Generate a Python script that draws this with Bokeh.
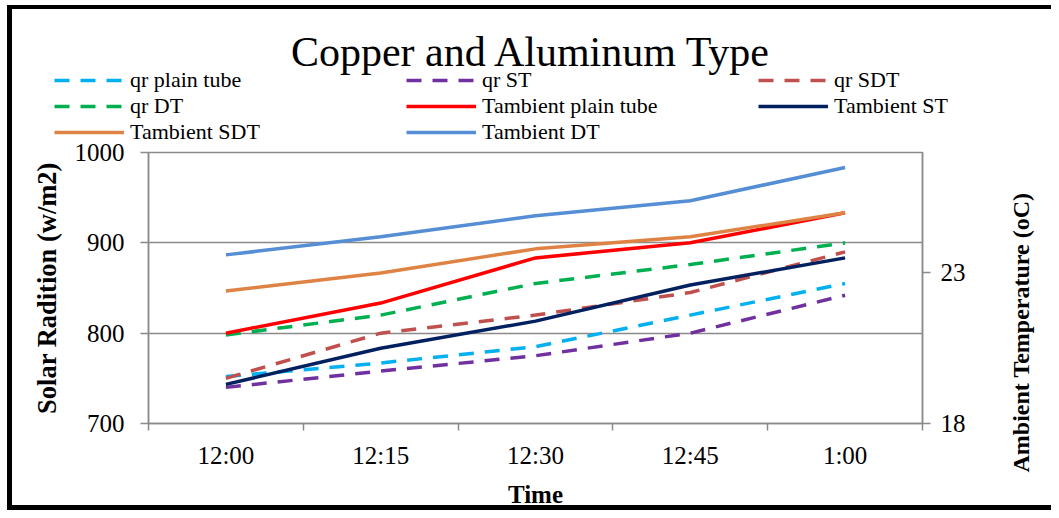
import math
from bokeh.plotting import figure
from bokeh.layouts import column, row
from bokeh.models import (Range1d, LinearAxis, FixedTicker, Legend, LegendItem, Label)
from bokeh.embed import file_html
from bokeh.resources import INLINE

# ---------------- data ----------------
times = ["12:00", "12:15", "12:30", "12:45", "1:00"]
qr_plain_tube = [752, 767, 785, 820, 855]
qr_st = [740, 758, 775, 800, 842]
qr_sdt = [750, 800, 820, 845, 890]
qr_dt = [798, 820, 855, 876, 900]
t_plain_tube = [21.0, 22.0, 23.5, 24.0, 25.0]
t_st = [19.3, 20.5, 21.4, 22.6, 23.5]
t_sdt = [22.4, 23.0, 23.8, 24.2, 25.0]
t_dt = [23.6, 24.2, 24.9, 25.4, 26.5]
left_ticks = [700, 800, 900, 1000]
right_ticks = [18, 23]

title_text = "Copper and Aluminum Type"
x_title = "Time"
left_title = "Solar Radition (w/m2)"
right_title = "Ambient Temperature (oC)"

xs = list(range(len(times)))

FONT = "Liberation Serif"
GRID = "#8a8a8a"
DASH = "15 11"
LW = 3.5

series = [
    ("qr plain tube", qr_plain_tube, "#00B0F0", DASH, "default"),
    ("qr ST", qr_st, "#7030A0", DASH, "default"),
    ("qr SDT", qr_sdt, "#C0504D", DASH, "default"),
    ("qr DT", qr_dt, "#00B050", DASH, "default"),
    ("Tambient plain tube", t_plain_tube, "#FF0000", "solid", "temp"),
    ("Tambient ST", t_st, "#002060", "solid", "temp"),
    ("Tambient SDT", t_sdt, "#DF8344", "solid", "temp"),
    ("Tambient DT", t_dt, "#558ED5", "solid", "temp"),
]

W = 1051
H = 510
TOP_H = 150          # header canvas height
OVERLAP = 14         # main row starts this many px above the header's bottom
MAIN_TOP = TOP_H - OVERLAP
MAIN_H = H - MAIN_TOP
RIGHT_W = 61
MAIN_W = W - RIGHT_W


def no_align(fig):
    try:
        fig.frame_align = False
    except Exception:
        pass


def bare(fig):
    fig.border_fill_color = None
    fig.background_fill_color = None
    fig.outline_line_color = None
    fig.grid.visible = False
    no_align(fig)


# ---------------- header: title + legend ----------------
top = figure(width=W, height=TOP_H, output_backend="svg", toolbar_location=None, tools="",
             title=None, x_range=Range1d(0, W), y_range=Range1d(0, TOP_H),
             x_axis_type=None, y_axis_type=None,
             min_border_left=0, min_border_right=0, min_border_top=0, min_border_bottom=0)
bare(top)

top.add_layout(Label(x=531, y=TOP_H - 51, x_units="screen", y_units="screen",
                     text=title_text, text_font=FONT,
                     text_font_size="42px", text_align="center",
                     text_baseline="middle", text_color="black"))

items = []
for name, ys, color, dash, rng in series:
    r = top.line([float("nan")], [float("nan")], line_color=color, line_width=LW, line_dash=dash)
    items.append(LegendItem(label=name, renderers=[r]))

legend = Legend(items=items, orientation="horizontal", ncols=3,
                location=(54, TOP_H - 145), padding=0, margin=0, spacing=0,
                glyph_width=70, glyph_height=22, label_width=276, label_height=22,
                label_standoff=6, label_text_font=FONT, label_text_font_size="22px",
                label_text_color="black", border_line_color=None, background_fill_color=None)
top.add_layout(legend, "center")

# ---------------- main chart ----------------
p = figure(width=MAIN_W, height=MAIN_H, output_backend="svg", toolbar_location=None, tools="",
           title=None,
           x_range=Range1d(-0.5, len(times) - 0.5), y_range=Range1d(700, 1000),
           min_border_left=148, min_border_right=MAIN_W - 922, min_border_top=152 - MAIN_TOP,
           min_border_bottom=H - 423)
p.border_fill_color = None
p.background_fill_color = "white"
p.outline_line_color = GRID
p.outline_line_width = 1.5
no_align(p)
p.extra_y_ranges = {"temp": Range1d(18, 27)}

xa = p.xaxis[0]
xa.ticker = FixedTicker(ticks=xs, minor_ticks=[i - 0.5 for i in range(len(times) + 1)])
xa.major_label_overrides = {i: t for i, t in enumerate(times)}
xa.major_tick_out = 0
xa.major_tick_in = 0
xa.minor_tick_out = 7
xa.minor_tick_in = 0
xa.minor_tick_line_color = GRID
xa.minor_tick_line_width = 1.5
xa.axis_line_color = GRID
xa.axis_line_width = 1.5
xa.major_label_text_font = FONT
xa.major_label_text_font_size = "25px"
xa.major_label_text_color = "black"
xa.major_label_standoff = 11
xa.axis_label = x_title
xa.axis_label_text_font = FONT
xa.axis_label_text_font_size = "25px"
xa.axis_label_text_font_style = "bold"
xa.axis_label_text_color = "black"
xa.axis_label_standoff = 9

ya = p.yaxis[0]
ya.ticker = FixedTicker(ticks=left_ticks)
ya.major_tick_out = 8
ya.major_tick_in = 0
ya.minor_tick_out = 0
ya.minor_tick_in = 0
ya.major_tick_line_color = GRID
ya.major_tick_line_width = 1.5
ya.axis_line_color = GRID
ya.axis_line_width = 1.5
ya.major_label_text_font = FONT
ya.major_label_text_font_size = "25px"
ya.major_label_text_color = "black"
ya.major_label_standoff = 16
ya.axis_label = left_title
ya.axis_label_text_font = FONT
ya.axis_label_text_font_size = "26.5px"
ya.axis_label_text_font_style = "bold"
ya.axis_label_text_color = "black"
ya.axis_label_standoff = 10

ra = LinearAxis(y_range_name="temp", ticker=FixedTicker(ticks=right_ticks))
ra.major_tick_out = 8
ra.major_tick_in = 0
ra.minor_tick_out = 0
ra.minor_tick_in = 0
ra.major_tick_line_color = GRID
ra.major_tick_line_width = 1.5
ra.axis_line_color = GRID
ra.axis_line_width = 1.5
ra.major_label_text_font = FONT
ra.major_label_text_font_size = "25px"
ra.major_label_text_color = "black"
ra.major_label_standoff = 10
p.add_layout(ra, "right")

p.xgrid.visible = False
p.ygrid.ticker = FixedTicker(ticks=left_ticks)
p.ygrid.grid_line_color = GRID
p.ygrid.grid_line_width = 1.5

for name, ys, color, dash, rng in series:
    p.line(xs, ys, line_color=color, line_width=LW, line_dash=dash, y_range_name=rng)

# ---------------- right axis title strip ----------------
rfig = figure(width=RIGHT_W, height=MAIN_H, output_backend="svg", toolbar_location=None,
              tools="", title=None, x_range=Range1d(0, RIGHT_W), y_range=Range1d(0, MAIN_H),
              x_axis_type=None, y_axis_type=None,
              min_border_left=0, min_border_right=0, min_border_top=0, min_border_bottom=0)
bare(rfig)
rfig.add_layout(Label(x=1020 - MAIN_W, y=MAIN_H - (332 - MAIN_TOP), angle=math.pi / 2,
                      x_units="screen", y_units="screen",
                      text=right_title, text_font=FONT, text_font_size="24px",
                      text_font_style="bold", text_align="center", text_baseline="middle",
                      text_color="black"))

main_row = row(p, rfig, spacing=0)
main_row.styles = {"margin-top": f"-{OVERLAP}px"}

layout = column(top, main_row, spacing=0)
layout.styles = {"box-shadow": "inset 7px 5px 0 0 white, inset 12px 9px 0 0 black, "
                               "inset 0 -5px 0 0 black"}

open("out.html", "w").write(file_html(layout, INLINE))
